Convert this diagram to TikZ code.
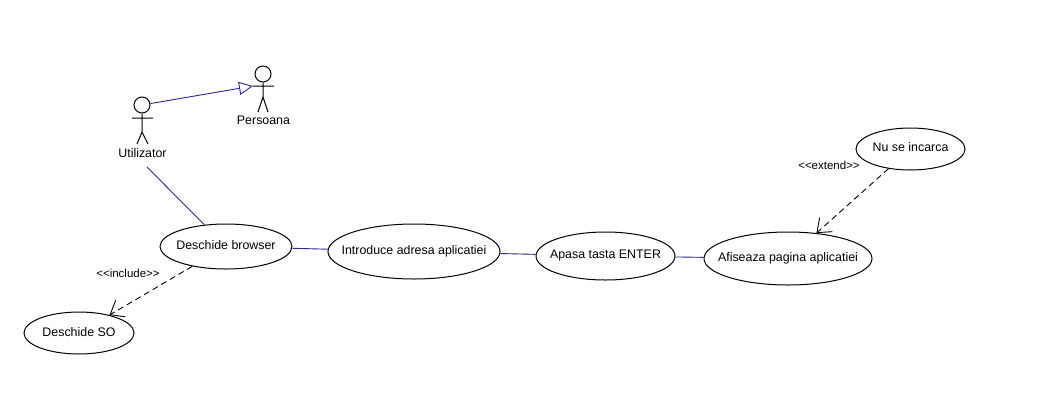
\documentclass[tikz,border=0pt]{standalone}
\usepackage{fontspec}
\setmainfont{Liberation Sans}
\usetikzlibrary{shapes.geometric,arrows.meta}
\definecolor{umlblue}{RGB}{40,40,150}
\newcommand{\uctext}[2][2pt]{\makebox[0pt]{\raisebox{#1}{#2}}}
\tikzset{
  usecase/.style={ellipse,draw=black,line width=1pt,fill=white,inner sep=0pt,font=\fontsize{12.4}{14}\selectfont},
  head/.style={circle,draw=black,line width=1pt,fill=white,minimum size=16pt,inner sep=0pt},
  stick/.style={draw=black,line width=1pt},
  actorlabel/.style={inner sep=0pt,font=\fontsize{12.4}{14}\selectfont},
  stereo/.style={inner sep=0pt,font=\fontsize{11.5}{13}\selectfont},
  assoc/.style={draw=umlblue,line width=0.9pt},
  gener/.style={assoc,-{Triangle[open,length=14pt,width=13pt,line width=0.9pt]}},
  dep/.style={draw=black,line width=0.9pt,dash pattern=on 6pt off 4pt,-{Straight Barb[length=12pt,width=19pt,line width=0.9pt]}}
}
\begin{document}
\begin{tikzpicture}[x=1pt,y=-1pt]
\useasboundingbox (0,0) rectangle (1054,410);
\fill[white] (0,0) rectangle (1054,410);
% use cases
\node[usecase,minimum width=132pt,minimum height=45pt] (browser) at (226,246.5) {\uctext{Deschide browser}};
\node[usecase,minimum width=110pt,minimum height=42pt] (so) at (79,333) {\uctext{Deschide SO}};
\node[usecase,minimum width=172pt,minimum height=55pt] (intro) at (414,251.5) {\uctext{Introduce adresa aplicatiei}};
\node[usecase,minimum width=139pt,minimum height=48pt] (apasa) at (605.5,256) {\uctext[3pt]{Apasa tasta ENTER}};
\node[usecase,minimum width=168pt,minimum height=53pt] (afis) at (788,258.5) {\uctext{Afiseaza pagina aplicatiei}};
\node[usecase,minimum width=109pt,minimum height=42pt] (nuse) at (910.5,149) {\uctext[3pt]{Nu se incarca}};
% actors
\node[head] (uhead) at (142,105) {};
\draw[stick] (uhead.south) -- (142,132) coordinate (uhip) (132,118) -- (153,118) (137,144) -- (uhip) -- (148,144);
\node[actorlabel] (ulabel) at (142.5,153) {Utilizator};
\node[head] (phead) at (263,74) {};
\draw[stick] (phead.south) -- (263,97) coordinate (phip) (253,86) -- (274,86) (258,112) -- (phip) -- (268,112);
\node[actorlabel] (plabel) at (263.5,120) {Persoana};
\coordinate (parm) at (253,86);
\coordinate (ufoot) at (147,167);
% connectors
\draw[gener] (uhead) -- (parm);
\draw[assoc] (ufoot) -- (browser);
\draw[assoc] (browser) -- (intro);
\draw[assoc] (intro) -- (apasa);
\draw[assoc] (apasa) -- (afis);
\draw[dep] (browser) -- (so);
\draw[dep] (nuse) -- (afis);
% stereotypes
\node[stereo] (inc) at (128,273) {<{}<include>{}>};
\node[stereo] (ext) at (829,165) {<{}<extend>{}>};
\end{tikzpicture}
\end{document}
